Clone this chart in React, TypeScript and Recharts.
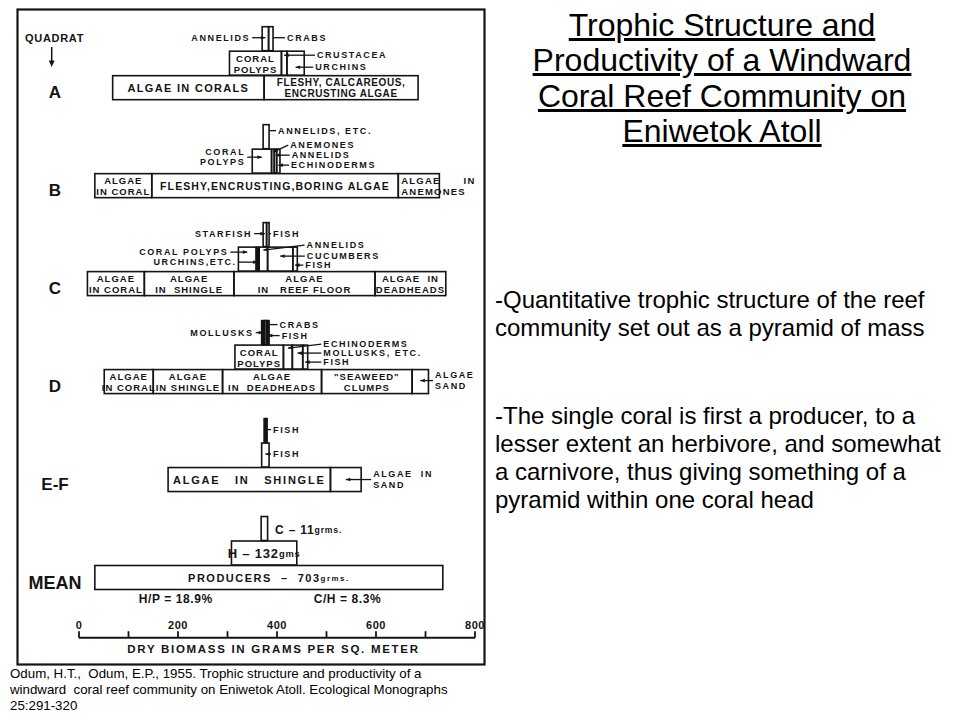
import React from 'react';
import { BarChart, Bar, XAxis, YAxis } from 'recharts';

const INK = '#141414';
const FIG_FONT = '"Liberation Sans", Arial, "DejaVu Sans", sans-serif';
const SLIDE_FONT = '"Liberation Sans", Arial, sans-serif';

// ---- data: quadrats and tiers ----
const QUADRATS = ['A', 'B', 'C', 'D', 'E-F', 'MEAN'];
const TIERS = ['c', 'h', 'p']; // carnivores, herbivores, producers

// segment boundaries along the biomass axis (g dry weight per sq. m)
const A_CARNIVORES = [370, 383, 392];
const A_HERBIVORES = [304, 409, 420, 455];
const A_PRODUCERS = [68, 374, 685];
const B_CARNIVORES = [372, 384];
const B_HERBIVORES = [350, 389, 394.5, 399.3, 406];
const B_PRODUCERS = [32, 147, 645, 728];
const C_CARNIVORES = [372, 379, 384];
const C_HERBIVORES = [322, 358, 364, 381, 432, 441];
const C_PRODUCERS = [17, 132, 313, 598, 741];
const D_CARNIVORES = [369, 375, 379, 384];
const D_HERBIVORES = [315, 413, 431, 452, 462];
const D_PRODUCERS = [51, 150, 290, 490, 673, 706];
const EF_CARNIVORES = [374, 380];
const EF_HERBIVORES = [369, 384];
const EF_PRODUCERS = [180, 508, 570];
const MEAN_CARNIVORES = [368, 381];
const MEAN_HERBIVORES = [308, 440];
const MEAN_PRODUCERS = [32, 735];

const A_CARNIVORE_NAMES = ['ANNELIDS', 'CRABS'];
const A_HERBIVORE_NAMES = ['CORAL\nPOLYPS', 'CRUSTACEA', 'URCHINS'];
const A_PRODUCER_NAMES = ['ALGAE IN CORALS', 'FLESHY, CALCAREOUS,\nENCRUSTING ALGAE'];
const B_CARNIVORE_NAMES = ['ANNELIDS, ETC.'];
const B_HERBIVORE_NAMES = ['CORAL\nPOLYPS', 'ANEMONES', 'ANNELIDS', 'ECHINODERMS'];
const B_PRODUCER_NAMES = ['ALGAE\nIN CORAL', 'FLESHY,ENCRUSTING,BORING ALGAE', 'ALGAE      IN\nANEMONES'];
const C_CARNIVORE_NAMES = ['STARFISH', 'FISH'];
const C_HERBIVORE_NAMES = ['CORAL POLYPS', 'URCHINS,ETC.', 'ANNELIDS', 'CUCUMBERS', 'FISH'];
const C_PRODUCER_NAMES = ['ALGAE\nIN CORAL', 'ALGAE\nIN  SHINGLE', 'ALGAE\nIN   REEF FLOOR', 'ALGAE  IN\nDEADHEADS'];
const D_CARNIVORE_NAMES = ['MOLLUSKS', 'CRABS', 'FISH'];
const D_HERBIVORE_NAMES = ['CORAL\nPOLYPS', 'ECHINODERMS', 'MOLLUSKS, ETC.', 'FISH'];
const D_PRODUCER_NAMES = ['ALGAE\nIN CORAL', 'ALGAE\nIN SHINGLE', 'ALGAE\nIN  DEADHEADS', '"SEAWEED"\nCLUMPS', 'ALGAE IN\nSAND'];
const EF_CARNIVORE_NAMES = ['FISH'];
const EF_HERBIVORE_NAMES = ['FISH'];
const EF_PRODUCER_NAMES = ['ALGAE   IN   SHINGLE', 'ALGAE  IN\nSAND'];
const MEAN_CARNIVORE_NAMES = ['C – 11|grms.'];
const MEAN_HERBIVORE_NAMES = ['H – 132|gms'];
const MEAN_PRODUCER_NAMES = ['PRODUCERS  –  703|grms.'];

const RATIO_LABELS = ['H/P = 18.9%', 'C/H = 8.3%'];
const AXIS_TICKS = [0, 100, 200, 300, 400, 500, 600, 700, 800];
const AXIS_LABELED = [0, 200, 400, 600, 800];
const AXIS_TITLE = 'DRY BIOMASS IN GRAMS PER SQ. METER';

const TITLE_LINES = ['Trophic Structure and', 'Productivity of a Windward', 'Coral Reef Community on', 'Eniwetok Atoll'];
const POINT_1 = ['-Quantitative trophic structure of the reef', 'community set out as a pyramid of mass'];
const POINT_2 = [
  '-The single coral is first a producer, to a',
  'lesser extent an herbivore, and somewhat',
  'a carnivore, thus giving something of a',
  'pyramid within one coral head',
];
const CITATION = [
  'Odum, H.T.,  Odum, E.P., 1955. Trophic structure and productivity of a',
  'windward  coral reef community on Eniwetok Atoll. Ecological Monographs',
  '25:291-320',
];

// ---- layout / style config (kept apart from data) ----
type Callout = { side: 'left' | 'right'; dx: number; dy: number; arrow?: boolean; leader?: boolean };
const CALLOUTS: Record<string, Callout> = {
  'A|c:0': { side: 'left', dx: 12, dy: -1 },
  'A|c:1': { side: 'right', dx: 14, dy: -1, arrow: false },
  'A|h:1': { side: 'right', dx: 30, dy: -8 },
  'A|h:2': { side: 'right', dx: 11, dy: 4 },
  'B|c:0': { side: 'right', dx: 9, dy: -6, arrow: false },
  'B|h:0': { side: 'left', dx: 7, dy: -4 },
  'B|h:1': { side: 'right', dx: 16, dy: -16 },
  'B|h:2': { side: 'right', dx: 15, dy: -6 },
  'B|h:3': { side: 'right', dx: 11, dy: 4 },
  'C|c:0': { side: 'left', dx: 11, dy: -1 },
  'C|c:1': { side: 'right', dx: 4, dy: -1, arrow: false },
  'C|h:0': { side: 'left', dx: 10, dy: -7 },
  'C|h:1': { side: 'left', dx: 19.5, dy: 3 },
  'C|h:2': { side: 'right', dx: 39, dy: -14 },
  'C|h:3': { side: 'right', dx: 14, dy: -3 },
  'C|h:4': { side: 'right', dx: 8, dy: 6 },
  'D|c:0': { side: 'left', dx: 8, dy: 0 },
  'D|c:1': { side: 'right', dx: 13, dy: -8, arrow: false },
  'D|c:2': { side: 'right', dx: 12.6, dy: 3 },
  'D|h:1': { side: 'right', dx: 31, dy: -13 },
  'D|h:2': { side: 'right', dx: 20.6, dy: -4 },
  'D|h:3': { side: 'right', dx: 15.6, dy: 5 },
  'D|p:4': { side: 'right', dx: 6.5, dy: -1 },
  'E-F|c:0': { side: 'right', dx: 6, dy: -1, arrow: false },
  'E-F|h:0': { side: 'right', dx: 4, dy: -1 },
  'E-F|p:1': { side: 'right', dx: 12, dy: 0 },
  'MEAN|c:0': { side: 'right', dx: 7.5, dy: 1, leader: false },
};
const DARK_SEGMENTS = ['C|h:1', 'D|c:0', 'D|c:2', 'E-F|c:0'];
type LabelStyle = { size: number; ls: number; align?: 'start' | 'middle' };
const SINGLE_STYLE: LabelStyle = { size: 11, ls: 1.3 };
const MULTI_STYLE: LabelStyle = { size: 9.5, ls: 1 };
const CALLOUT_STYLE: LabelStyle = { size: 9, ls: 1.6 };
const LABEL_STYLE: Record<string, LabelStyle> = {
  'A|p:1': { size: 10, ls: 0.6 },
  'B|p:1': { size: 10.5, ls: 1.1 },
  'B|p:2': { size: 9.5, ls: 1.2, align: 'start' },
  'E-F|p:0': { size: 11, ls: 1.8 },
  'MEAN|h:0': { size: 13, ls: 0.8 },
  'MEAN|p:0': { size: 11, ls: 1.5 },
  'MEAN|c:0': { size: 12, ls: 0.8 },
};

// ---- build chart rows ----
const BOUNDS = [
  [A_CARNIVORES, A_HERBIVORES, A_PRODUCERS],
  [B_CARNIVORES, B_HERBIVORES, B_PRODUCERS],
  [C_CARNIVORES, C_HERBIVORES, C_PRODUCERS],
  [D_CARNIVORES, D_HERBIVORES, D_PRODUCERS],
  [EF_CARNIVORES, EF_HERBIVORES, EF_PRODUCERS],
  [MEAN_CARNIVORES, MEAN_HERBIVORES, MEAN_PRODUCERS],
];
const NAMES = [
  [A_CARNIVORE_NAMES, A_HERBIVORE_NAMES, A_PRODUCER_NAMES],
  [B_CARNIVORE_NAMES, B_HERBIVORE_NAMES, B_PRODUCER_NAMES],
  [C_CARNIVORE_NAMES, C_HERBIVORE_NAMES, C_PRODUCER_NAMES],
  [D_CARNIVORE_NAMES, D_HERBIVORE_NAMES, D_PRODUCER_NAMES],
  [EF_CARNIVORE_NAMES, EF_HERBIVORE_NAMES, EF_PRODUCER_NAMES],
  [MEAN_CARNIVORE_NAMES, MEAN_HERBIVORE_NAMES, MEAN_PRODUCER_NAMES],
];
const SEG_KEYS = ['s0', 's1', 's2', 's3', 's4'];

type Row = { id: string; quadrat: string; names: string[]; off: number; [k: string]: any };
const ROWS: Row[] = [];
QUADRATS.forEach((q, qi) => {
  TIERS.forEach((t, ti) => {
    const b = BOUNDS[qi][ti];
    const row: Row = { id: `${q}|${t}`, quadrat: t === 'p' ? q : '', names: NAMES[qi][ti], off: b[0] };
    SEG_KEYS.forEach((k, i) => {
      row[k] = i < b.length - 1 ? b[i + 1] - b[i] : 0;
    });
    ROWS.push(row);
  });
  if (qi < QUADRATS.length - 1) {
    const gap: Row = { id: `gap|${qi}`, quadrat: '', names: [], off: 0 };
    SEG_KEYS.forEach((k) => {
      gap[k] = 0;
    });
    ROWS.push(gap);
  }
});

function renderLines(lines: string[], x: number, cy: number, anchor: string, st: LabelStyle) {
  const lh = st.size * 1.15;
  return lines.map((ln, k) => {
    const parts = ln.split('|');
    const yy = cy + (k - (lines.length - 1) / 2) * lh;
    return (
      <text
        key={k}
        x={x}
        y={yy}
        textAnchor={anchor}
        dominantBaseline="central"
        fontFamily={FIG_FONT}
        fontWeight={700}
        fontSize={st.size}
        letterSpacing={st.ls}
        fill={INK}
        style={{ whiteSpace: 'pre' }}
      >
        {parts[0]}
        {parts.length > 1 && <tspan fontSize={st.size * 0.72}>{parts[1]}</tspan>}
      </text>
    );
  });
}

function makeSegmentShape(segIndex: number) {
  return (props: any) => {
    const { x, y, width, height, payload } = props;
    if (!payload || !payload.names || segIndex >= payload.names.length || !(width > 0)) return <g />;
    const key = `${payload.id}:${segIndex}`;
    const name: string = payload.names[segIndex];
    const dark = DARK_SEGMENTS.includes(key);
    const call = CALLOUTS[key];
    const cx = x + width / 2;
    const cy = y + height / 2;
    const lines = name.split('\n');
    let label: any = null;
    if (call) {
      const right = call.side === 'right';
      const tx = right ? x + width + call.dx : x - call.dx;
      const ty = cy + call.dy;
      const st = LABEL_STYLE[key] || CALLOUT_STYLE;
      const parts: any[] = [];
      if (call.leader !== false) {
        const sx = right ? tx - 2 : tx + 2;
        const withArrow = call.arrow !== false;
        const tgx = withArrow ? cx : right ? x + width : x;
        const tgy = Math.max(y + 3, Math.min(y + height - 3, ty));
        parts.push(<line key="l" x1={sx} y1={ty} x2={tgx} y2={tgy} stroke={INK} strokeWidth={1.3} />);
        if (withArrow) {
          const len = Math.hypot(tgx - sx, tgy - ty) || 1;
          const ux = (tgx - sx) / len;
          const uy = (tgy - ty) / len;
          const bx = tgx - ux * 4.5;
          const by = tgy - uy * 4.5;
          const pts = `${tgx},${tgy} ${bx - uy * 1.8},${by + ux * 1.8} ${bx + uy * 1.8},${by - ux * 1.8}`;
          parts.push(<polygon key="a" points={pts} fill={INK} />);
        }
      }
      label = (
        <g>
          {parts}
          {renderLines(lines, tx, ty, right ? 'start' : 'end', st)}
        </g>
      );
    } else {
      const st = LABEL_STYLE[key] || (lines.length > 1 ? MULTI_STYLE : SINGLE_STYLE);
      const start = st.align === 'start';
      label = renderLines(lines, start ? x + 3 : cx, cy + 0.5, start ? 'start' : 'middle', st);
    }
    return (
      <g>
        <rect x={x} y={y} width={width} height={height} fill={dark ? INK : 'none'} stroke={INK} strokeWidth={1.6} />
        {label}
      </g>
    );
  };
}

const QuadratTick = (props: any) => {
  const { x, y, payload } = props;
  const row = ROWS.find((r) => r.id === payload.value);
  if (!row || !row.quadrat) return <g />;
  return (
    <text
      x={x - 24}
      y={y + 5}
      textAnchor="middle"
      dominantBaseline="central"
      fontFamily={FIG_FONT}
      fontWeight={700}
      fontSize={row.quadrat === 'MEAN' ? 18 : 17}
      fill={INK}
    >
      {row.quadrat}
    </text>
  );
};

const AxisTick = (props: any) => {
  const { x, y, payload } = props;
  return (
    <g>
      <line x1={x} x2={x} y1={y} y2={y - 6.5} stroke={INK} strokeWidth={1.8} />
      {AXIS_LABELED.includes(payload.value) && (
        <text x={x} y={y - 8.4} textAnchor="middle" fontFamily={FIG_FONT} fontWeight={700} fontSize={11} letterSpacing={0.6} fill={INK}>
          {payload.value}
        </text>
      )}
    </g>
  );
};

export default function App() {
  return (
    <div style={{ position: 'fixed', left: 0, top: 0, width: 960, height: 720, background: '#fff', overflow: 'hidden' }}>
      <div style={{ position: 'absolute', left: 0, top: 0 }}>
        <BarChart
          width={490}
          height={670}
          data={ROWS}
          layout="vertical"
          margin={{ top: 26.7, right: 15, bottom: 0, left: 0 }}
          barCategoryGap={0}
          barGap={0}
        >
          <XAxis
            type="number"
            domain={[0, 800]}
            ticks={AXIS_TICKS}
            interval={0}
            allowDataOverflow
            height={32.3}
            tickSize={0}
            tickMargin={0}
            tickLine={false}
            axisLine={{ stroke: INK, strokeWidth: 2 }}
            tick={<AxisTick />}
          />
          <YAxis
            type="category"
            dataKey="id"
            width={79}
            interval={0}
            tickSize={0}
            tickMargin={0}
            tickLine={false}
            axisLine={false}
            padding={{ top: 0, bottom: 47.7 }}
            tick={<QuadratTick />}
          />
          <Bar dataKey="off" stackId="t" fill="none" isAnimationActive={false} shape={() => <g />} />
          {SEG_KEYS.map((k, i) => (
            <Bar key={k} dataKey={k} stackId="t" fill="none" isAnimationActive={false} shape={makeSegmentShape(i)} />
          ))}
        </BarChart>
      </div>

      <svg width={960} height={720} style={{ position: 'absolute', left: 0, top: 0, pointerEvents: 'none' }}>
        <rect x={17.5} y={9.5} width={467} height={655} fill="none" stroke={INK} strokeWidth={2.2} />
        <text x={25} y={37.5} dominantBaseline="central" fontFamily={FIG_FONT} fontWeight={700} fontSize={11} letterSpacing={0.7} fill={INK}>
          QUADRAT
        </text>
        <line x1={51.7} y1={47} x2={51.7} y2={62} stroke={INK} strokeWidth={1.5} />
        <polygon points="51.7,67 48.8,60.5 54.6,60.5" fill={INK} />
        <text x={175.8} y={599} textAnchor="middle" dominantBaseline="central" fontFamily={FIG_FONT} fontWeight={700} fontSize={12} letterSpacing={0.6} fill={INK}>
          {RATIO_LABELS[0]}
        </text>
        <text x={347.5} y={599} textAnchor="middle" dominantBaseline="central" fontFamily={FIG_FONT} fontWeight={700} fontSize={12} letterSpacing={0.6} fill={INK}>
          {RATIO_LABELS[1]}
        </text>
        <text x={273.5} y={649.3} textAnchor="middle" dominantBaseline="central" fontFamily={FIG_FONT} fontWeight={700} fontSize={11.5} letterSpacing={1.7} fill={INK}>
          {AXIS_TITLE}
        </text>
      </svg>

      <div
        style={{
          position: 'absolute',
          left: 482,
          top: 7.7,
          width: 480,
          textAlign: 'center',
          fontFamily: SLIDE_FONT,
          fontSize: 32,
          lineHeight: '35.5px',
          color: '#000',
          textDecoration: 'underline',
        }}
      >
        {TITLE_LINES.map((t, i) => (
          <div key={i}>{t}</div>
        ))}
      </div>

      <div style={{ position: 'absolute', left: 495, top: 285.8, fontFamily: SLIDE_FONT, fontSize: 24, lineHeight: '28.3px', color: '#000', whiteSpace: 'pre' }}>
        {POINT_1.map((t, i) => (
          <div key={i}>{t}</div>
        ))}
      </div>
      <div style={{ position: 'absolute', left: 495, top: 401.5, fontFamily: SLIDE_FONT, fontSize: 24, lineHeight: '28.3px', color: '#000', whiteSpace: 'pre' }}>
        {POINT_2.map((t, i) => (
          <div key={i}>{t}</div>
        ))}
      </div>

      <div style={{ position: 'absolute', left: 10, top: 665.7, fontFamily: SLIDE_FONT, fontSize: 13.3, lineHeight: '16px', color: '#000', whiteSpace: 'pre' }}>
        {CITATION.map((t, i) => (
          <div key={i}>{t}</div>
        ))}
      </div>
    </div>
  );
}
